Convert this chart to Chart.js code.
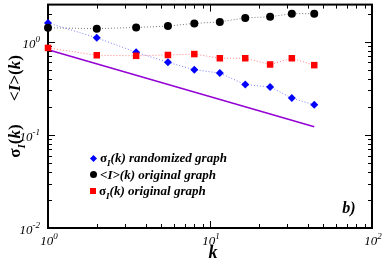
<!DOCTYPE html>
<html>
<head>
<meta charset="utf-8">
<script src="https://cdn.jsdelivr.net/npm/chart.js@4.4.1/dist/chart.umd.min.js"></script>
<style>
html, body { margin: 0; padding: 0; background: #fff; }
#wrap { position: relative; width: 382px; height: 263px; overflow: hidden; font-family: "Liberation Serif", "Times New Roman", serif; color: #000; }
#wrap canvas { position: absolute; left: 0; top: 0; }
.lbl { position: absolute; white-space: nowrap; line-height: 1; }
.tick { font-style: italic; font-size: 13px; }
.tick sup { font-size: 9px; vertical-align: 0; position: relative; top: -6px; }
.legend { position: absolute; left: 89px; top: 150px; font-size: 13px; font-weight: bold; font-style: italic; }
.legend div { height: 16.5px; line-height: 15px; white-space: nowrap; }
.mk { display: inline-block; vertical-align: middle; margin-right: 3px; position: relative; top: -1px; }
.sym { font-style: normal; }
.legend sub { font-size: 9px; vertical-align: 0; position: relative; top: 4px; }
.ytitle { font-weight: bold; font-size: 17px; transform: translate(-50%, -50%) rotate(-90deg); }
.ytitle sub { font-size: 11px; vertical-align: 0; position: relative; top: 5px; }
</style>
</head>
<body>
<div id="wrap">
  <canvas id="chart" width="382" height="263"></canvas>
</div>
<script>
const kValues = [1, 2, 3.5, 5.5, 8, 11.5, 16.5, 23.5, 32, 44];
const sigmaRandomized = [1.59, 1.10, 0.77, 0.60, 0.50, 0.46, 0.346, 0.327, 0.248, 0.21];
const meanOriginal = [1.41, 1.38, 1.42, 1.47, 1.57, 1.63, 1.80, 1.85, 2.0, 2.0];
const sigmaOriginal = [0.857, 0.715, 0.705, 0.72, 0.736, 0.664, 0.664, 0.569, 0.664, 0.56];

// reference power-law line
const guideK = [1, 44];
const guideValues = [0.82, 0.122];

// axes
const xRange = [1, 100];
const yRange = [0.01, 2.5];
const xMajorTicks = [1, 10, 100];
const yMajorTicks = [0.01, 0.1, 1];
const xTickLabels = [['10', '0'], ['10', '1'], ['10', '2']];
const yTickLabels = [['10', '-2'], ['10', '-1'], ['10', '0']];

function minorTicks(majors, lo, hi) {
    const out = [];
    majors.forEach(m => {
        for (let i = 2; i <= 9; i++) {
            const v = m * i;
            if (v > lo && v < hi) out.push(v);
        }
    });
    return out;
}
const xMinorTicks = minorTicks(xMajorTicks, xRange[0], xRange[1]);
const yMinorTicks = minorTicks(yMajorTicks, yRange[0], yRange[1]);

function toPoints(xs, ys) {
    return xs.map((x, i) => ({ x: x, y: ys[i] }));
}

// inward ticks on all four sides plus the box
const frameTicks = {
    id: 'frameTicks',
    beforeDatasetsDraw(chart) {
        const { ctx, chartArea: a, scales: { x, y } } = chart;
        ctx.save();
        ctx.strokeStyle = '#000';
        ctx.lineWidth = 1;
        const seg = (x1, y1, x2, y2) => { ctx.beginPath(); ctx.moveTo(x1, y1); ctx.lineTo(x2, y2); ctx.stroke(); };
        const xt = (v, len) => {
            const px = Math.round(x.getPixelForValue(v)) + 0.5;
            seg(px, a.bottom, px, a.bottom - len);
            seg(px, a.top, px, a.top + len);
        };
        const yt = (v, len) => {
            const py = Math.round(y.getPixelForValue(v)) + 0.5;
            seg(a.left, py, a.left + len, py);
            seg(a.right, py, a.right - len, py);
        };
        xMajorTicks.forEach(v => xt(v, 7));
        xMinorTicks.forEach(v => xt(v, 4));
        yMajorTicks.forEach(v => yt(v, 7));
        yMinorTicks.forEach(v => yt(v, 4));
        ctx.lineWidth = 2;
        ctx.strokeRect(a.left, a.top, a.right - a.left, a.bottom - a.top);
        ctx.restore();
    }
};

const chart = new Chart(document.getElementById('chart'), {
    type: 'scatter',
    data: {
        datasets: [
            {
                label: 'guide',
                data: toPoints(guideK, guideValues),
                showLine: true,
                borderColor: '#9400d3',
                borderWidth: 1.5,
                pointRadius: 0,
                clip: false,
                order: 5
            },
            {
                label: 'sigma randomized',
                data: toPoints(kValues, sigmaRandomized),
                showLine: true,
                borderColor: '#7a7aff',
                borderWidth: 1,
                borderDash: [1, 2],
                pointStyle: 'rectRot',
                pointRadius: 4,
                pointBackgroundColor: '#0000ff',
                pointBorderWidth: 0,
                clip: false,
                order: 4
            },
            {
                label: 'mean original',
                data: toPoints(kValues, meanOriginal),
                showLine: true,
                borderColor: '#777',
                borderWidth: 1,
                borderDash: [1, 2],
                pointStyle: 'circle',
                pointRadius: 4,
                pointBackgroundColor: '#000',
                pointBorderWidth: 0,
                clip: false,
                order: 3
            },
            {
                label: 'sigma original',
                data: toPoints(kValues, sigmaOriginal),
                showLine: true,
                borderColor: '#ff8080',
                borderWidth: 1,
                borderDash: [1, 2],
                pointStyle: 'rect',
                pointRadius: 4.6,
                pointBackgroundColor: '#ff0000',
                pointBorderWidth: 0,
                clip: false,
                order: 2
            }
        ]
    },
    options: {
        responsive: false,
        animation: false,
        devicePixelRatio: 1,
        layout: { padding: { left: 48, top: 2, right: 10, bottom: 35 } },
        plugins: { legend: { display: false }, tooltip: { enabled: false } },
        scales: {
            x: { type: 'logarithmic', min: xRange[0], max: xRange[1], display: false },
            y: { type: 'logarithmic', min: yRange[0], max: yRange[1], display: false }
        }
    },
    plugins: [frameTicks]
});

// text overlay placed from the chart's own scales
const wrap = document.getElementById('wrap');
function addLabel(html, cls, left, top, transform) {
    const el = document.createElement('div');
    el.className = 'lbl ' + cls;
    el.innerHTML = html;
    el.style.left = left + 'px';
    el.style.top = top + 'px';
    if (transform) el.style.transform = transform;
    wrap.appendChild(el);
    return el;
}

const xs = chart.scales.x, ys = chart.scales.y, area = chart.chartArea;
xMajorTicks.forEach((v, i) => {
    const [b, e] = xTickLabels[i];
    addLabel(b + '<sup>' + e + '</sup>', 'tick', xs.getPixelForValue(v), area.bottom + 12, 'translate(-45%, -50%)');
});
yMajorTicks.forEach((v, i) => {
    const [b, e] = yTickLabels[i];
    addLabel(b + '<sup>' + e + '</sup>', 'tick', area.left - 8, ys.getPixelForValue(v) + 1, 'translate(-100%, -50%)');
});

addLabel('k', '', xs.getPixelForValue(10) + 3, area.bottom + 24, 'translate(-50%, -50%)').style.cssText += 'font-weight:bold;font-style:italic;font-size:18px;';
addLabel('b)', '', area.right - 23, area.bottom - 20, 'translate(-50%, -50%)').style.cssText += 'font-weight:bold;font-style:italic;font-size:16px;';

addLabel('&lt;<i>I</i>&gt;(<i>k</i>)', 'ytitle', 14, 78);
addLabel('σ<sub><i>I</i></sub>(<i>k</i>)', 'ytitle', 14, 141);

const legend = document.createElement('div');
legend.className = 'legend';
legend.innerHTML =
    '<div><span class="mk" style="width:5px;height:5px;background:#0000ff;transform:rotate(45deg);margin-left:2px;margin-right:4px;"></span><span class="sym">σ</span><sub>I</sub>(k) randomized graph</div>' +
    '<div><span class="mk" style="width:7px;height:7px;border-radius:50%;background:#000;margin-left:1px;"></span>&lt;I&gt;(k) original graph</div>' +
    '<div><span class="mk" style="width:6px;height:6px;background:#ff0000;margin-left:1px;"></span><span class="sym">σ</span><sub>I</sub>(k) original graph</div>';
wrap.appendChild(legend);
</script>
</body>
</html>
